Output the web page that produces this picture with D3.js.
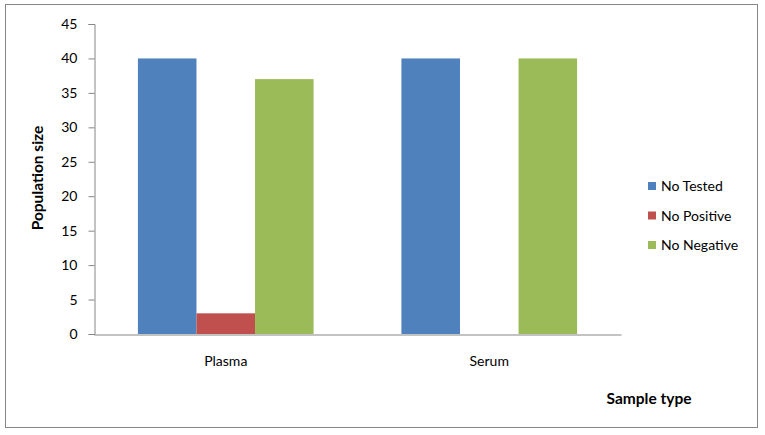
<!DOCTYPE html>
<html>
<head>
<meta charset="utf-8">
<script src="https://cdn.jsdelivr.net/npm/d3@7"></script>
<style>
  body { margin: 0; background: #fff; }
  text { font-family: Lato, "Open Sans", sans-serif; }
</style>
</head>
<body>
<script>
var categories = ["Plasma", "Serum"];
var seriesNames = ["No Tested", "No Positive", "No Negative"];
var noTested = [40, 40];
var noPositive = [3, 0];
var noNegative = [37, 40];
var yTicks = [0, 5, 10, 15, 20, 25, 30, 35, 40, 45];

var colors = ["#4F81BD", "#C0504D", "#9BBB59"];
var seriesVals = [noTested, noPositive, noNegative];

var W = 765, H = 435;
var plot = {left: 94, right: 621, top: 24, bottom: 334};

var svg = d3.select("body").append("svg")
    .attr("width", W)
    .attr("height", H);

// chart border
svg.append("rect")
    .attr("x", 5.5).attr("y", 4.5)
    .attr("width", 752).attr("height", 423)
    .attr("fill", "#fff")
    .attr("stroke", "#868686")
    .attr("stroke-width", 1);

var x0 = d3.scaleBand().domain(categories).range([plot.left, plot.right]).paddingInner(0).paddingOuter(0);
var x1 = d3.scaleBand().domain(seriesNames).range([0, x0.bandwidth()]).paddingOuter(0.75).paddingInner(0);
var y = d3.scaleLinear().domain([0, 45]).range([plot.bottom, plot.top]);

// bars
for (var s = 0; s < seriesNames.length; s++) {
  svg.append("g").selectAll("rect")
    .data(categories)
    .enter().append("rect")
    .attr("x", function(d) { return x0(d) + x1(seriesNames[s]); })
    .attr("y", function(d, i) { return y(seriesVals[s][i]); })
    .attr("width", x1.bandwidth())
    .attr("height", function(d, i) { return y(0) - y(seriesVals[s][i]); })
    .attr("fill", colors[s]);
}

// y axis
var yAxis = svg.append("g")
    .attr("transform", "translate(" + (plot.left + 0.5) + ",0)")
    .call(d3.axisLeft(y).tickValues(yTicks).tickSize(6).tickPadding(11));
yAxis.select(".domain").attr("stroke", "#868686");
yAxis.selectAll(".tick line").attr("stroke", "#868686");
yAxis.selectAll(".tick text")
    .attr("fill", "#000")
    .style("font-size", "14px")
    .style("font-family", "Lato, sans-serif");

// x axis
var xAxis = svg.append("g")
    .attr("transform", "translate(0," + (plot.bottom + 0.5) + ")")
    .call(d3.axisBottom(x0).tickSize(0).tickPadding(22));
xAxis.select(".domain").attr("stroke", "#868686");
xAxis.selectAll(".tick text")
    .attr("fill", "#000")
    .style("font-size", "14px")
    .style("font-family", "Lato, sans-serif");

// axis titles
svg.append("text")
    .attr("transform", "translate(43,178) rotate(-90)")
    .attr("text-anchor", "middle")
    .style("font-size", "15.5px")
    .style("font-weight", "bold")
    .text("Population  size");

svg.append("text")
    .attr("x", 649).attr("y", 404)
    .attr("text-anchor", "middle")
    .style("font-size", "15.5px")
    .style("font-weight", "bold")
    .text("Sample type");

// legend
var legend = svg.append("g").selectAll("g")
    .data(seriesNames)
    .enter().append("g")
    .attr("transform", function(d, i) { return "translate(648," + (186 + i * 29.5) + ")"; });
legend.append("rect")
    .attr("x", 0).attr("y", -4)
    .attr("width", 8).attr("height", 8)
    .attr("fill", function(d, i) { return colors[i]; });
legend.append("text")
    .attr("x", 13).attr("y", 5)
    .style("font-size", "14px")
    .text(function(d) { return d; });
</script>
</body>
</html>
